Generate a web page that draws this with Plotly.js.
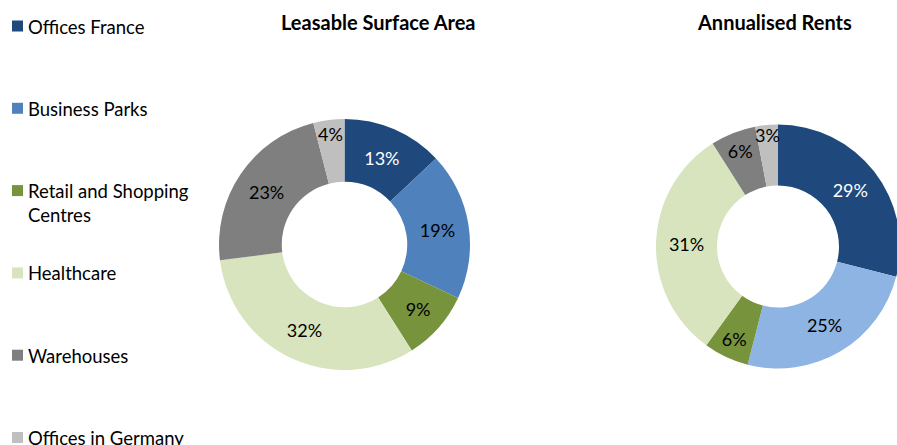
<!DOCTYPE html>
<html>
<head>
<meta charset="utf-8">
<script src="https://cdn.plot.ly/plotly-3.0.1.min.js"></script>
<style>
  html, body { margin: 0; padding: 0; overflow: hidden; background: #fff; }
  #chart { width: 920px; height: 445px; }
</style>
</head>
<body>
<div id="chart"></div>
<script>
// ---- data ----
const categories = ["Offices France", "Business Parks", "Retail and Shopping Centres", "Healthcare", "Warehouses", "Offices in Germany"];
const legendLabels = ["Offices France", "Business Parks", "Retail and Shopping<br>Centres", "Healthcare", "Warehouses", "Offices in Germany"];
const surfaceArea = [13, 19, 9, 32, 23, 4];
const annualRents = [29, 25, 6, 31, 6, 3];
const chartTitles = ["Leasable Surface Area", "Annualised Rents"];

// ---- styles ----
const colorsSurface = ["#1F497D", "#4F81BD", "#77933C", "#D7E4BD", "#7F7F7F", "#BFBFBF"];
const colorsRents   = ["#1F497D", "#8EB4E3", "#77933C", "#D7E4BD", "#7F7F7F", "#BFBFBF"];
const textColors    = ["#FFFFFF", "#000000", "#000000", "#000000", "#000000", "#000000"];
const FONT = "Lato, 'Open Sans', sans-serif";
const W = 920, H = 445;

function px(x) { return x / W; }
function py(yTop) { return 1 - yTop / H; }

function donut(values, colors, cx, cyTop, r) {
  return {
    type: "pie",
    labels: categories,
    values: values,
    hole: 0.5,
    sort: false,
    direction: "clockwise",
    rotation: 0,
    textinfo: "percent",
    textposition: "inside",
    insidetextorientation: "horizontal",
    textfont: { family: FONT, size: 18, color: textColors },
    marker: { colors: colors, line: { width: 0 } },
    showlegend: false,
    hoverinfo: "label+percent",
    domain: {
      x: [px(cx - r), px(cx + r)],
      y: [py(cyTop + r), py(cyTop - r)]
    }
  };
}

const data = [
  donut(surfaceArea, colorsSurface, 344.5, 244.5, 125.5),
  donut(annualRents, colorsRents, 778, 246.5, 122)
];

const annotations = [];
const shapes = [];
// titles
[[378, chartTitles[0]], [774, chartTitles[1]]].forEach(function (t) {
  annotations.push({
    xref: "paper", yref: "paper", x: px(t[0]), y: py(22),
    xanchor: "center", yanchor: "middle", showarrow: false,
    text: "<b>" + t[1] + "</b>",
    font: { family: FONT, size: 20, color: "#000000" }
  });
});
// legend
legendLabels.forEach(function (lab, i) {
  const cy = 26 + i * 82.3;
  shapes.push({
    type: "rect", xref: "paper", yref: "paper",
    x0: px(12), x1: px(23), y0: py(cy + 5.5), y1: py(cy - 5.5),
    fillcolor: colorsSurface[i], line: { width: 0 }
  });
  annotations.push({
    xref: "paper", yref: "paper", x: px(25.5), y: py(cy - 12.5),
    xanchor: "left", yanchor: "top", align: "left", showarrow: false,
    text: lab,
    font: { family: FONT, size: 18.5, color: "#000000" }
  });
});

const layout = {
  width: W, height: H,
  margin: { l: 0, r: 0, t: 0, b: 0 },
  paper_bgcolor: "#FFFFFF",
  plot_bgcolor: "#FFFFFF",
  font: { family: FONT, size: 18, color: "#000000" },
  uniformtext: { mode: "show", minsize: 18 },
  annotations: annotations,
  shapes: shapes,
  showlegend: false
};

Plotly.newPlot("chart", data, layout, { displayModeBar: false, staticPlot: true });
</script>
</body>
</html>
